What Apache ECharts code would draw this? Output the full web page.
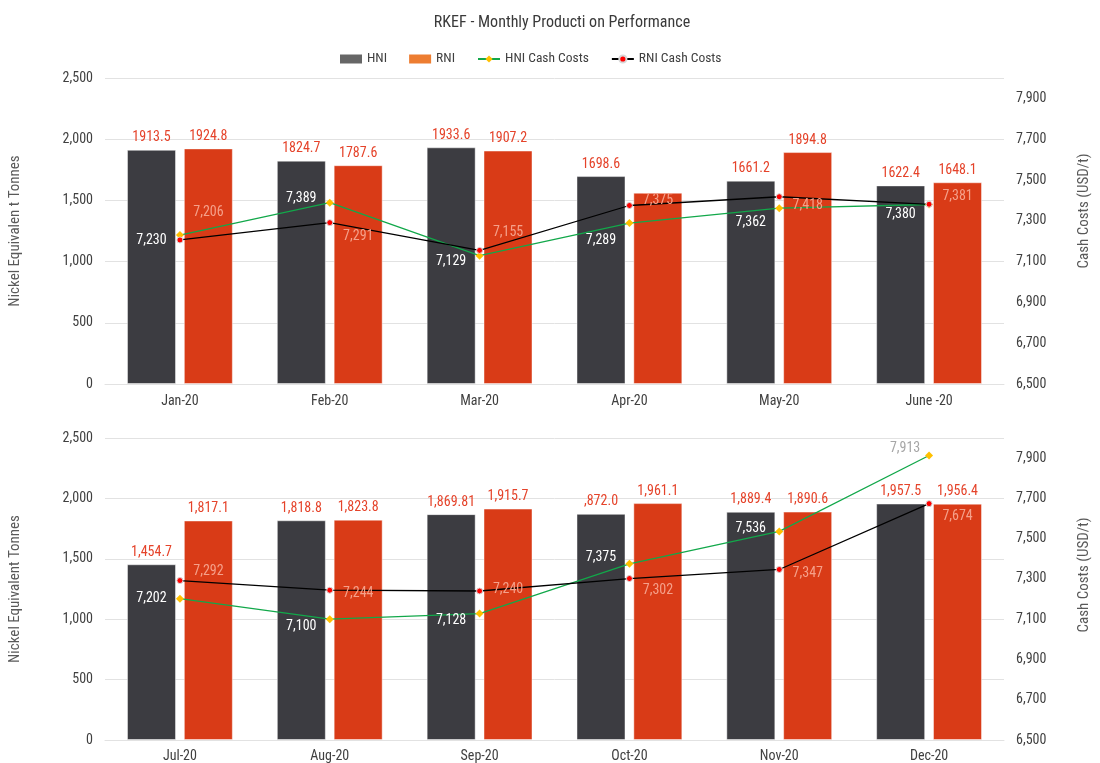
<!DOCTYPE html>
<html>
<head>
<meta charset="utf-8">
<script src="https://cdn.jsdelivr.net/npm/echarts@6/dist/echarts.min.js"></script>
<style>
html,body{margin:0;padding:0;background:#fff;}
#chart{width:1100px;height:763px;}
</style>
</head>
<body>
<div id="chart"></div>
<script>
// ---------- data ----------
const topCats = ['Jan-20', 'Feb-20', 'Mar-20', 'Apr-20', 'May-20', 'June -20'];
const botCats = ['Jul-20', 'Aug-20', 'Sep-20', 'Oct-20', 'Nov-20', 'Dec-20'];

const topHni = [1913.5, 1824.7, 1933.6, 1698.6, 1661.2, 1622.4];
const topRni = [1924.8, 1787.6, 1907.2, 1563, 1894.8, 1648.1];
const topHniText = ['1913.5', '1824.7', '1933.6', '1698.6', '1661.2', '1622.4'];
const topRniText = ['1924.8', '1787.6', '1907.2', '', '1894.8', '1648.1'];
const topHniCost = [7230, 7389, 7129, 7289, 7362, 7380];
const topRniCost = [7206, 7291, 7155, 7375, 7418, 7381];

const botHni = [1454.7, 1818.8, 1869.81, 1872.0, 1889.4, 1957.5];
const botRni = [1817.1, 1823.8, 1915.7, 1961.1, 1890.6, 1956.4];
const botHniText = ['1,454.7', '1,818.8', '1,869.81', ',872.0', '1,889.4', '1,957.5'];
const botRniText = ['1,817.1', '1,823.8', '1,915.7', '1,961.1', '1,890.6', '1,956.4'];
const botHniCost = [7202, 7100, 7128, 7375, 7536, 7913];
const botRniCost = [7292, 7244, 7240, 7302, 7347, 7674];

const leftTicks = [0, 500, 1000, 1500, 2000, 2500];
const rightTicks = [6500, 6700, 6900, 7100, 7300, 7500, 7700, 7900];

// label nudges (layout only, px)
const topHniDy = [5, -4, 6, 17, 14, 10];
const topRniDy = [-27, 14, -18, -5, 9, -8];
const botHniDy = [0, 7, 7, -6, -3, -7];
const botRniDy = [-9, 3, -2, 12, 4, 13];

// ---------- styles ----------
const FONT = "'Liberation Sans Narrow', 'Roboto Condensed', 'DejaVu Sans Condensed', sans-serif";
const TXT = '#404040';
const HNI_BAR = '#3c3c41';
const RNI_BAR = '#d93b17';
const BAR_LBL = '#e5432a';
const RNI_COST_LBL = '#f5a08a';
const GREEN = '#12a84a';
const YELLOW = '#ffc000';

const fmt = v => Math.round(v).toLocaleString('en-US');

function costData(vals, dys, dx, lastSpecial) {
  return vals.map((v, i) => {
    const item = { value: v, label: { offset: [dx, dys[i]] } };
    if (lastSpecial && i === vals.length - 1) {
      item.label = { offset: [-24, dys[i]], color: '#a6a6a6' };
    }
    return item;
  });
}

function barSeries(name, vals, texts, color, xi, yi) {
  return {
    name: name, type: 'bar', xAxisIndex: xi, yAxisIndex: yi,
    data: vals, barWidth: 49, barGap: '16%',
    itemStyle: { color: color, borderColor: 'rgba(255,255,255,0.45)', borderWidth: 1 },
    label: {
      show: true, position: 'top', distance: 5,
      color: BAR_LBL, fontFamily: FONT, fontSize: 14,
      formatter: p => texts[p.dataIndex]
    },
    z: 2
  };
}

function lineSeries(name, data, lineColor, symbol, symColor, symSize, lblColor, xi, yi) {
  return {
    name: name, type: 'line', xAxisIndex: xi, yAxisIndex: yi,
    data: data,
    symbol: symbol, symbolSize: symSize,
    lineStyle: { color: lineColor, width: 1.3 },
    itemStyle: { color: symColor, borderColor: symbol === 'circle' ? '#d8d8d8' : symColor, borderWidth: symbol === 'circle' ? 1 : 0 },
    label: {
      show: true, position: 'inside', color: lblColor,
      fontFamily: FONT, fontSize: 14,
      formatter: p => fmt(p.value)
    },
    z: 5
  };
}

function leftAxis(gi, nameStr) {
  return {
    type: 'value', gridIndex: gi, min: 0, max: 2500, interval: 500,
    name: nameStr, nameLocation: 'middle', nameGap: 82, nameRotate: 90,
    nameTextStyle: { color: '#595959', fontFamily: FONT, fontSize: 15 },
    axisLine: { show: false }, axisTick: { show: false },
    axisLabel: { color: TXT, fontFamily: FONT, fontSize: 14, margin: 12,
      formatter: v => leftTicks.indexOf(v) >= 0 ? v.toLocaleString('en-US') : '' },
    splitLine: { lineStyle: { color: '#e2e2e2', width: 1 } }
  };
}

function rightAxis(gi, shift) {
  return {
    type: 'value', gridIndex: gi, position: 'right', min: 6500, max: 8000, interval: 100,
    name: 'Cash Costs (USD/t)', nameLocation: 'middle', nameGap: 73, nameRotate: 90,
    nameTextStyle: { color: '#595959', fontFamily: FONT, fontSize: 15, padding: [0, 0, 0, shift] },
    axisLine: { show: false }, axisTick: { show: false },
    axisLabel: { color: TXT, fontFamily: FONT, fontSize: 14, margin: 12, showMaxLabel: false,
      formatter: v => rightTicks.indexOf(v) >= 0 ? v.toLocaleString('en-US') : '' },
    splitLine: { show: false }
  };
}

function catAxis(gi, cats, margin) {
  return {
    type: 'category', gridIndex: gi, data: cats,
    axisLine: { show: true, lineStyle: { color: '#e2e2e2' } },
    axisTick: { show: false },
    axisLabel: { color: TXT, fontFamily: FONT, fontSize: 14, margin: margin }
  };
}

const chart = echarts.init(document.getElementById('chart'));
chart.setOption({
  backgroundColor: '#ffffff',
  animation: false,
  textStyle: { fontFamily: FONT },
  title: {
    text: 'RKEF - Monthly Producti on Performance',
    left: 562, top: 15, textAlign: 'center', padding: 0,
    textStyle: { color: '#3a3a3a', fontFamily: FONT, fontSize: 16, fontWeight: 'normal' }
  },
  legend: {
    left: 340, top: 52, padding: 0, itemGap: 22, itemWidth: 22, itemHeight: 9,
    textStyle: { color: TXT, fontFamily: FONT, fontSize: 13.5 },
    data: [
      { name: 'HNI', icon: 'rect', itemStyle: { color: '#666666', borderWidth: 0 } },
      { name: 'RNI', icon: 'rect', itemStyle: { color: '#ed7d31', borderWidth: 0 } },
      { name: 'HNI Cash Costs' },
      { name: 'RNI Cash Costs' }
    ]
  },
  grid: [
    { left: 99, right: 78, top: 78, height: 306 },
    { left: 104, right: 83, top: 438, height: 303 }
  ],
  xAxis: [catAxis(0, topCats, 10), catAxis(1, botCats, 9)],
  yAxis: [
    leftAxis(0, 'Nickel Equivalen t Tonnes'),
    rightAxis(0, 40),
    leftAxis(1, 'Nickel Equivalent Tonnes'),
    rightAxis(1, 28)
  ],
  series: [
    barSeries('HNI', topHni, topHniText, HNI_BAR, 0, 0),
    barSeries('RNI', topRni, topRniText, RNI_BAR, 0, 0),
    lineSeries('HNI Cash Costs', costData(topHniCost, topHniDy, -28.5, false), GREEN, 'diamond', YELLOW, 8, '#ffffff', 0, 1),
    lineSeries('RNI Cash Costs', costData(topRniCost, topRniDy, 28.5, false), '#000000', 'circle', '#ff0000', 6, RNI_COST_LBL, 0, 1),
    barSeries('HNI', botHni, botHniText, HNI_BAR, 1, 2),
    barSeries('RNI', botRni, botRniText, RNI_BAR, 1, 2),
    lineSeries('HNI Cash Costs', costData(botHniCost, botHniDy, -28.5, true), GREEN, 'diamond', YELLOW, 8, '#ffffff', 1, 3),
    lineSeries('RNI Cash Costs', costData(botRniCost, botRniDy, 28.5, false), '#000000', 'circle', '#ff0000', 6, RNI_COST_LBL, 1, 3)
  ]
});
</script>
</body>
</html>
